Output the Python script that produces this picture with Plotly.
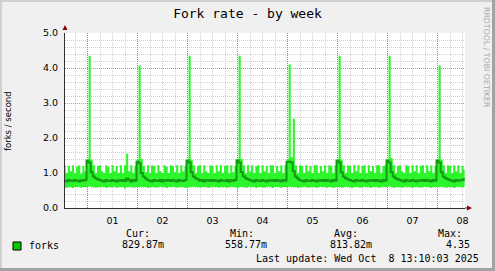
import pandas as pd
import plotly.graph_objects as go

# ---------------- data ----------------
title_text = "Fork rate - by week"
y_title = "forks / second"
watermark = "RRDTOOL / TOBI OETIKER"
day_labels = ["01", "02", "03", "04", "05", "06", "07", "08"]
day_starts = pd.date_range("2025-10-01", "2025-10-08", freq="D")
day_noons = day_starts + pd.Timedelta(hours=12)
x_start = "2025-09-30 13:10"
x_end = "2025-10-08 13:10"

# hourly samples 2025-09-30 13:00 .. 2025-10-08 13:00
times = pd.date_range("2025-09-30 13:00", "2025-10-08 13:00", freq="h")

max_vals = [
    1.22, 1.0, 1.2, 1.05, 1.22, 1.0, 1.18, 1.22, 0.98, 1.2, 1.05,
    1.4, 4.35, 1.38, 1.22, 1.0, 1.2, 1.22, 1.05, 1.0, 1.22, 1.18, 1.0, 1.22, 1.05, 1.2, 1.0, 1.22, 1.0, 1.22, 1.55, 1.05, 1.22, 1.0, 1.2,
    1.4, 4.07, 1.4, 1.2, 1.02, 1.22, 1.0, 1.22, 1.2, 1.0, 1.22, 1.05, 1.0, 1.22, 1.18, 1.0, 1.22, 1.2, 1.02, 1.22, 1.0, 1.22, 1.05, 1.2,
    1.4, 4.35, 1.38, 1.22, 1.0, 1.2, 1.22, 1.0, 1.22, 1.05, 1.0, 1.22, 1.2, 1.0, 1.22, 1.05, 1.22, 1.0, 1.2, 1.22, 1.0, 1.22, 1.02, 1.2,
    1.4, 4.35, 1.4, 1.22, 1.0, 1.22, 1.05, 1.22, 1.0, 1.2, 1.22, 1.0, 1.22, 1.05, 1.2, 1.0, 1.22, 1.22, 1.0, 1.2, 1.05, 1.22, 1.0, 1.22,
    1.4, 4.10, 1.45, 2.55, 1.22, 1.0, 1.22, 1.2, 1.0, 1.22, 1.05, 1.2, 1.0, 1.22, 1.22, 1.0, 1.2, 1.05, 1.22, 1.0, 1.22, 1.2, 1.0, 1.22,
    1.4, 4.35, 1.38, 1.22, 1.0, 1.22, 1.2, 1.0, 1.22, 1.05, 1.22, 1.0, 1.2, 1.22, 1.0, 1.22, 1.05, 1.2, 1.0, 1.22, 1.22, 1.0, 1.2, 1.22,
    1.4, 4.35, 1.42, 1.22, 1.0, 1.2, 1.22, 1.05, 1.0, 1.22, 1.2, 1.0, 1.22, 1.05, 1.22, 1.0, 1.2, 1.22, 1.0, 1.22, 1.05, 1.22, 1.0, 1.2,
    1.4, 4.07, 1.38, 1.22, 1.0, 1.22, 1.2, 1.0, 1.22, 1.05, 1.22, 1.0, 1.2, 1.1,
]

min_vals = [
    0.6, 0.58, 0.6, 0.6, 0.57, 0.6, 0.6, 0.61, 0.58, 0.6, 0.6,
    0.6, 0.62, 0.6, 0.6, 0.58, 0.6, 0.6, 0.61, 0.6, 0.57, 0.6, 0.6, 0.6, 0.61, 0.58, 0.6, 0.6, 0.6, 0.56, 0.6, 0.6, 0.61, 0.58, 0.6,
    0.6, 0.6, 0.61, 0.6, 0.6, 0.57, 0.6, 0.6, 0.6, 0.58, 0.6, 0.61, 0.6, 0.6, 0.57, 0.6, 0.6, 0.61, 0.6, 0.58, 0.6, 0.6, 0.6, 0.57,
    0.58, 0.6, 0.6, 0.61, 0.6, 0.6, 0.58, 0.6, 0.6, 0.6, 0.57, 0.6, 0.61, 0.6, 0.6, 0.58, 0.6, 0.6, 0.6, 0.57, 0.6, 0.61, 0.6, 0.6,
    0.56, 0.6, 0.6, 0.6, 0.58, 0.6, 0.61, 0.6, 0.6, 0.57, 0.6, 0.6, 0.6, 0.58, 0.6, 0.61, 0.6, 0.57, 0.6, 0.6, 0.6, 0.58, 0.6, 0.6,
    0.6, 0.61, 0.6, 0.6, 0.6, 0.57, 0.6, 0.6, 0.61, 0.6, 0.58, 0.6, 0.6, 0.6, 0.57, 0.6, 0.61, 0.6, 0.6, 0.58, 0.6, 0.6, 0.57, 0.6,
    0.6, 0.6, 0.58, 0.6, 0.61, 0.6, 0.6, 0.57, 0.6, 0.6, 0.6, 0.58, 0.6, 0.61, 0.6, 0.6, 0.57, 0.6, 0.6, 0.6, 0.58, 0.6, 0.61, 0.6,
    0.6, 0.62, 0.6, 0.57, 0.6, 0.6, 0.6, 0.58, 0.6, 0.61, 0.6, 0.6, 0.57, 0.6, 0.6, 0.6, 0.58, 0.6, 0.61, 0.6, 0.6, 0.57, 0.6, 0.6,
    0.6, 0.6, 0.61, 0.6, 0.58, 0.6, 0.6, 0.6, 0.57, 0.6, 0.61, 0.6, 0.6, 0.6,
]

avg_vals = [
    0.78, 0.76, 0.8, 0.78, 0.77, 0.8, 0.78, 0.76, 0.79, 0.78, 0.8,
    1.35, 1.3, 1.02, 0.9, 0.85, 0.82, 0.8, 0.78, 0.76, 0.8, 0.78, 0.77, 0.8, 0.78, 0.76, 0.79, 0.78, 0.8, 0.77, 0.84, 0.8, 0.76, 0.8, 0.78,
    1.32, 1.28, 1.0, 0.9, 0.84, 0.8, 0.78, 0.76, 0.8, 0.78, 0.77, 0.8, 0.76, 0.79, 0.78, 0.8, 0.77, 0.8, 0.78, 0.76, 0.8, 0.78, 0.77, 0.8,
    1.35, 1.3, 1.02, 0.9, 0.85, 0.82, 0.78, 0.8, 0.76, 0.79, 0.78, 0.8, 0.77, 0.8, 0.78, 0.76, 0.8, 0.78, 0.77, 0.8, 0.76, 0.79, 0.78, 0.8,
    1.36, 1.3, 1.03, 0.91, 0.85, 0.82, 0.8, 0.78, 0.76, 0.8, 0.78, 0.77, 0.8, 0.78, 0.76, 0.79, 0.78, 0.8, 0.77, 0.8, 0.78, 0.76, 0.8, 0.78,
    1.32, 1.32, 1.3, 1.05, 0.9, 0.84, 0.8, 0.78, 0.76, 0.8, 0.78, 0.77, 0.8, 0.78, 0.76, 0.79, 0.78, 0.8, 0.77, 0.8, 0.78, 0.76, 0.8, 0.78,
    1.35, 1.3, 1.02, 0.9, 0.85, 0.82, 0.8, 0.78, 0.76, 0.8, 0.78, 0.77, 0.8, 0.78, 0.76, 0.79, 0.78, 0.8, 0.77, 0.8, 0.78, 0.76, 0.8, 0.78,
    1.36, 1.3, 1.02, 0.9, 0.85, 0.82, 0.8, 0.78, 0.76, 0.8, 0.78, 0.77, 0.8, 0.78, 0.76, 0.79, 0.78, 0.8, 0.77, 0.8, 0.78, 0.76, 0.8, 0.78,
    1.35, 1.3, 1.02, 0.9, 0.85, 0.82, 0.8, 0.78, 0.76, 0.8, 0.78, 0.79, 0.8, 0.83,
]

legend_name = "forks"
legend_headers = ["Cur:", "Min:", "Avg:", "Max:"]
legend_values = ["829.87m", "558.77m", "813.82m", "4.35"]
last_update = "Last update: Wed Oct\u00a0\u00a08 13:10:03 2025"

# ---------------- styling ----------------
W, H = 495, 271
L, R, T, B = 65, 30, 33, 63
PW, PH = W - L - R, H - T - B
BOTTOM = H - B


def px(x):
    return (x - L) / PW


def py(y):
    return (BOTTOM - y) / PH


MONO = "DejaVu Sans Mono"
SANS = "DejaVu Sans"
BAND = "#2cf52c"
LINE = "#129a12"
SWATCH = "#00cc00"
MAJOR_GRID = "rgba(255,0,0,0.5)"
MINOR_GRID = "#cfcfcf"
AXIS_COL = "#333333"
ARROW_COL = "#8b0000"

fig = go.Figure()
fig.add_trace(go.Scatter(x=times, y=min_vals, mode="lines",
                         line=dict(width=0, shape="hvh"), hoverinfo="skip"))
fig.add_trace(go.Scatter(x=times, y=max_vals, mode="lines",
                         line=dict(width=0, shape="hvh"), fill="tonexty",
                         fillcolor=BAND, hoverinfo="skip"))
fig.add_trace(go.Scatter(x=times, y=avg_vals, mode="lines", xaxis="x2",
                         line=dict(width=2, shape="hvh", color=LINE),
                         hoverinfo="skip"))

fig.update_layout(
    width=W, height=H,
    margin=dict(l=L, r=R, t=T, b=B, pad=0),
    paper_bgcolor="#f0f0f0",
    plot_bgcolor="#ffffff",
    showlegend=False,
    hovermode=False,
    title=dict(text=title_text, x=0.5, xref="container", xanchor="center",
               y=1 - 13.5 / H, yref="container", yanchor="middle",
               font=dict(family=MONO, size=13, color="#000000")),
    xaxis=dict(
        type="date", range=[x_start, x_end],
        tickmode="array", tickvals=list(day_starts), showticklabels=False,
        ticks="", showgrid=True, gridcolor=MAJOR_GRID, griddash="1px,1px",
        gridwidth=1,
        minor=dict(tickmode="linear", tick0="2025-10-01", dtick=6 * 3600 * 1000,
                   showgrid=True, gridcolor=MINOR_GRID, griddash="1px,1px",
                   gridwidth=1, ticks=""),
        showline=True, linecolor=AXIS_COL, linewidth=1, zeroline=False,
        fixedrange=True,
    ),
    xaxis2=dict(
        type="date", range=[x_start, x_end], overlaying="x", matches="x",
        anchor="y", side="bottom",
        tickmode="array", tickvals=list(day_noons), ticktext=day_labels,
        showgrid=False, showline=False, zeroline=False,
        ticks="outside", ticklen=4, tickcolor="rgba(0,0,0,0)",
        tickfont=dict(family=SANS, size=9.5, color="#000000"),
        fixedrange=True,
    ),
    yaxis=dict(
        range=[0, 5], tickmode="linear", tick0=0, dtick=1, tickformat=".1f",
        showgrid=True, gridcolor=MAJOR_GRID, griddash="1px,1px", gridwidth=1,
        minor=dict(tickmode="linear", tick0=0, dtick=0.2, showgrid=True,
                   gridcolor=MINOR_GRID, griddash="1px,1px", gridwidth=1),
        showline=True, linecolor=AXIS_COL, linewidth=1, zeroline=False,
        ticks="outside", ticklen=4, tickcolor="rgba(0,0,0,0)",
        tickfont=dict(family=SANS, size=9.5, color="#000000"),
        fixedrange=True,
    ),
)

annotations = [
    dict(text=y_title, x=px(8), y=py(121), textangle=-90,
         font=dict(family=SANS, size=8.5, color="#000000")),
    dict(text=watermark, x=px(487), y=py(57), textangle=90,
         font=dict(family=SANS, size=7.8, color="#a8a8a8")),
    dict(text=legend_name, x=px(27), y=py(245.5), xanchor="left",
         font=dict(family=MONO, size=10, color="#000000")),
    dict(text=last_update, x=px(481), y=py(258.5), xanchor="right",
         font=dict(family=MONO, size=10, color="#000000")),
]
header_right = [152, 256, 360, 464]
value_right = [166, 269, 374, 472]
for h, xr in zip(legend_headers, header_right):
    annotations.append(dict(text=h, x=px(xr), y=py(233.5), xanchor="right",
                            font=dict(family=MONO, size=10, color="#000000")))
for v, xr in zip(legend_values, value_right):
    annotations.append(dict(text=v, x=px(xr), y=py(244.5), xanchor="right",
                            font=dict(family=MONO, size=10, color="#000000")))
for a in annotations:
    a.update(xref="paper", yref="paper", showarrow=False)
    a.setdefault("xanchor", "center")
    a.setdefault("yanchor", "middle")
fig.update_layout(annotations=annotations)


def rect(x0, y0, x1, y1, color, line=None):
    d = dict(type="rect", xref="paper", yref="paper",
             x0=px(x0), x1=px(x1), y0=py(y0), y1=py(y1),
             fillcolor=color, layer="above")
    d["line"] = line if line else dict(width=0)
    return d


shapes = [
    # legend swatch
    rect(13, 242, 21, 250, SWATCH, dict(color="#000000", width=1)),
    # 3D frame
    rect(0, 0, 495, 2, "#d0d0d0"),
    rect(0, 0, 2, 271, "#d0d0d0"),
    rect(492, 0, 495, 271, "#a2a2a2"),
    rect(0, 268, 495, 271, "#a2a2a2"),
    # axis arrows
    dict(type="path", xref="paper", yref="paper", layer="above",
         path=f"M {px(62.5)} {py(30)} L {px(67.5)} {py(30)} L {px(65)} {py(25)} Z",
         fillcolor=ARROW_COL, line=dict(width=0)),
    dict(type="path", xref="paper", yref="paper", layer="above",
         path=f"M {px(467)} {py(205.5)} L {px(467)} {py(210.5)} L {px(472)} {py(208)} Z",
         fillcolor=ARROW_COL, line=dict(width=0)),
    dict(type="line", xref="paper", yref="paper", layer="above",
         x0=px(465), x1=px(467), y0=py(208), y1=py(208),
         line=dict(color=AXIS_COL, width=1)),
]
fig.update_layout(shapes=shapes)

fig.write_html("out.html")
